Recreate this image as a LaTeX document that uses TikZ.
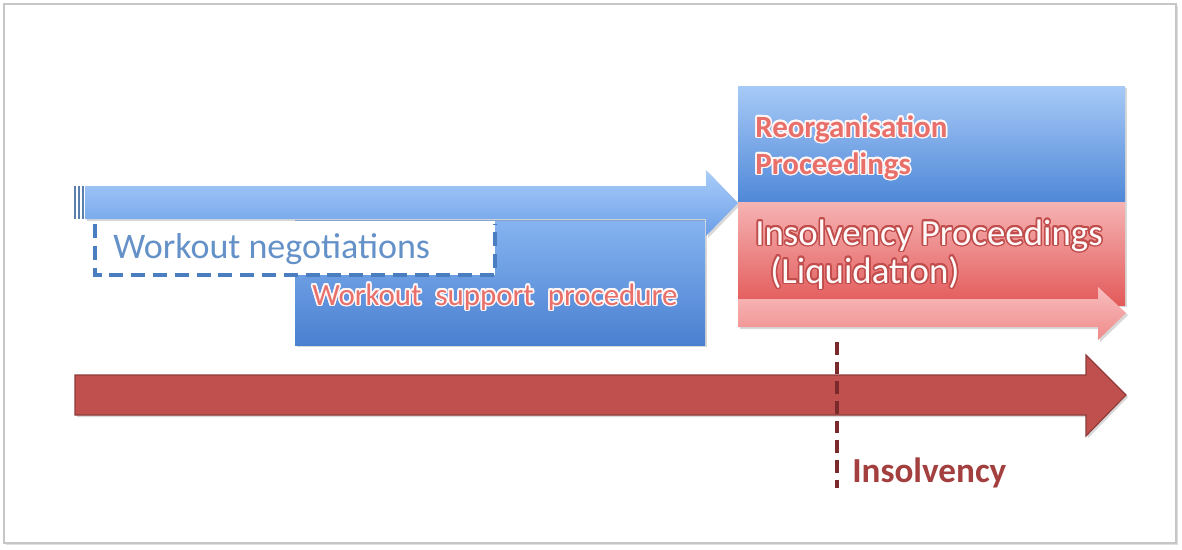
\documentclass[tikz,border=0pt]{standalone}
\usepackage{fontspec}
\setmainfont{Carlito}
\usepackage{contour}
\usetikzlibrary{shadows}
\definecolor{skyTop}{HTML}{A9CDF9}
\definecolor{skyBot}{HTML}{6C9FE8}
\definecolor{blueTop}{HTML}{A7CAF7}
\definecolor{blueBot}{HTML}{4F88D8}
\definecolor{midTop}{HTML}{86B4F1}
\definecolor{midBot}{HTML}{4A80D0}
\definecolor{redTop}{HTML}{F6B3B3}
\definecolor{redBot}{HTML}{E35A5A}
\definecolor{pinkTop}{HTML}{F8BEBE}
\definecolor{pinkBot}{HTML}{F08A8A}
\definecolor{timeFill}{HTML}{C0504D}
\definecolor{timeEdge}{HTML}{8E3B39}
\definecolor{cutLine}{HTML}{7A2A2A}
\definecolor{negBlue}{HTML}{4A7EC0}
\definecolor{salmon}{HTML}{E86F6A}
\definecolor{deepRed}{HTML}{A33F3F}
\contourlength{1.1pt}

\begin{document}
\begin{tikzpicture}[x=0.025cm, y=-0.025cm,
        every node/.append style={inner sep=0pt, anchor=base west},
        big/.style={font=\fontsize{26.2}{30}\selectfont},
        small/.style={font=\fontsize{22}{26}\selectfont}]
      \tikzstyle{box} = [drop shadow={opacity=0.3,shadow xshift=1.5pt,shadow yshift=-1.5pt}]
      \useasboundingbox (0,0) rectangle (1182,549);
      \draw[gray!45, line width=1.2pt, fill=white,
        drop shadow={opacity=0.25,shadow xshift=1.5pt,shadow yshift=-1.5pt}]
        (4,4) rectangle (1176,543);
      \path[box, top color=midTop, bottom color=midBot]
        (295,220) rectangle (705,345);
      \path[box, top color=skyTop, bottom color=skyBot]
        (85,186) -- (706,186) -- (706,170) -- (738,203) -- (706,236) -- (706,219) -- (85,219) -- cycle;
      \foreach \x in {75,79,83}
        \draw[negBlue!70!gray, line width=0.9pt] (\x,186) -- (\x,219);
      \fill[white] (95,221) rectangle (495,275);
      \draw[negBlue, line width=2.2pt, dash pattern=on 10pt off 5.5pt]
        (95,224) -- (95,275) -- (495,275) -- (495,224);
      \path[box, top color=blueTop, bottom color=blueBot] (738,86) rectangle (1125,202);
      \path[box, top color=redTop, bottom color=redBot] (738,202) rectangle (1125,305);
      \path[box, top color=pinkTop, bottom color=pinkBot]
        (738,299) -- (1098,299) -- (1098,287) -- (1126,313) -- (1098,340) -- (1098,327) -- (738,327) -- cycle;
      \path[box, fill=timeFill, draw=timeEdge, line width=0.8pt]
        (75,375) -- (1086,375) -- (1086,355) -- (1126,395) -- (1086,436) -- (1086,415) -- (75,415) -- cycle;
      \node (neg) [big, text=negBlue!85!white, font=\fontsize{25.6}{30}\selectfont] at (113,258) {Workout negotiations};
      \node (wsp) [small] at (312,305) {\contour{white!85!pink}{\textcolor{salmon}{Workout\ \ support\ \ procedure}}};
      \node (reorg) [small] at (755,137) {\contour{white!85!pink}{\textcolor{salmon}{\bfseries Reorganisation}}};
      \node (proc) [small] at (755,174) {\contour{white!85!pink}{\textcolor{salmon}{\bfseries Proceedings}}};
      \node (insproc) [big] at (755,245) {\contour{redBot!85!black}{\textcolor{white!92!pink}{Insolvency Proceedings}}};
      \node (liq) [big] at (770,283) {\contour{redBot!85!black}{\textcolor{white!92!pink}{(Liquidation)}}};
      \coordinate (cuttop) at (837,342);
      \coordinate (cutbot) at (837,488);
      \draw[cutLine, line width=2.8pt, dash pattern=on 9pt off 5pt] (cuttop) -- (cutbot);
      \node (ins) [big, text=deepRed, font=\bfseries\fontsize{25}{30}\selectfont] at (852,482) {Insolvency};
    \end{tikzpicture}
\end{document}
